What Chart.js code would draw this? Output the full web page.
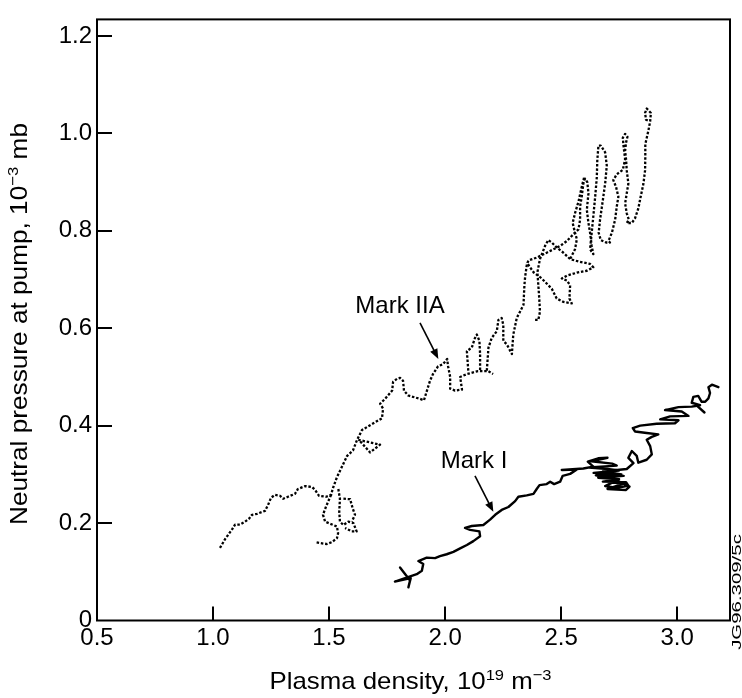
<!DOCTYPE html>
<html>
<head>
<meta charset="utf-8">
<script src="https://cdn.jsdelivr.net/npm/chart.js@4"></script>
<style>
  html, body { margin: 0; padding: 0; background: #fff; }
  canvas { display: block; }
</style>
</head>
<body>
<canvas id="pumpChart" width="742" height="698"></canvas>
<script>
// Neutral pressure at the pump vs plasma density, Mark I and Mark IIA divertors

const xTicks = [0.5, 1.0, 1.5, 2.0, 2.5, 3.0];
const yTicks = [0, 0.2, 0.4, 0.6, 0.8, 1.0, 1.2];
const xRange = [0.5, 3.228];
const yRange = [0, 1.234];

// Mark IIA shots: [density, pressure]
const iiaShot1 = [[1.030,0.149],[1.052,0.167],[1.082,0.187],[1.095,0.197],[1.116,0.197],[1.138,0.203],[1.155,0.209],[1.168,0.217],[1.190,0.219],[1.224,0.225],[1.237,0.237],[1.250,0.252],[1.267,0.258],[1.289,0.256],[1.302,0.250],[1.323,0.254],[1.353,0.260],[1.366,0.270],[1.397,0.276],[1.427,0.274],[1.440,0.268],[1.457,0.256],[1.487,0.254],[1.509,0.258],[1.517,0.272],[1.534,0.294],[1.560,0.320],[1.578,0.338],[1.603,0.349],[1.621,0.371],[1.642,0.391],[1.677,0.401],[1.728,0.415],[1.733,0.435],[1.720,0.445],[1.741,0.455],[1.772,0.472],[1.776,0.490],[1.793,0.496],[1.806,0.498],[1.819,0.492],[1.823,0.472],[1.841,0.462],[1.892,0.455],[1.909,0.452],[1.922,0.472],[1.935,0.492],[1.948,0.506],[1.970,0.522],[1.991,0.526],[2.009,0.537],[2.013,0.522],[2.022,0.500],[2.022,0.476],[2.043,0.472],[2.073,0.474],[2.065,0.500],[2.095,0.506],[2.142,0.512],[2.185,0.512],[2.207,0.506]];
const iiaDip = [[1.509,0.258],[1.496,0.244],[1.483,0.229],[1.474,0.217],[1.483,0.203],[1.513,0.197],[1.534,0.193],[1.539,0.179],[1.534,0.169],[1.513,0.161],[1.491,0.157],[1.461,0.159],[1.440,0.161]];
const iiaLoop1 = [[1.540,0.270],[1.547,0.250],[1.544,0.223],[1.547,0.203],[1.562,0.196],[1.583,0.203],[1.605,0.200],[1.619,0.183],[1.598,0.183],[1.569,0.190]];
const iiaLoop2 = [[1.562,0.250],[1.591,0.249],[1.602,0.230],[1.612,0.217],[1.598,0.203]];
const iiaLoop3 = [[1.626,0.371],[1.720,0.361],[1.677,0.345],[1.634,0.368]];
const iiaSpike = [[2.100,0.513],[2.094,0.553],[2.115,0.560],[2.129,0.580],[2.137,0.587],[2.148,0.574],[2.151,0.547],[2.151,0.513]];
const iiaShot2 = [[2.180,0.513],[2.187,0.560],[2.201,0.580],[2.223,0.594],[2.230,0.617],[2.244,0.621],[2.251,0.607],[2.251,0.574],[2.266,0.567],[2.288,0.547],[2.294,0.587],[2.309,0.621],[2.323,0.634],[2.338,0.648],[2.342,0.688],[2.345,0.705],[2.352,0.729],[2.359,0.739],[2.395,0.745],[2.438,0.755],[2.467,0.762],[2.496,0.769],[2.525,0.779],[2.553,0.793],[2.575,0.803],[2.582,0.823],[2.582,0.850],[2.589,0.870],[2.596,0.897],[2.603,0.907],[2.613,0.900],[2.618,0.877],[2.611,0.843],[2.618,0.816],[2.625,0.796],[2.632,0.769],[2.639,0.752],[2.625,0.762],[2.632,0.796],[2.639,0.830],[2.647,0.870],[2.654,0.910],[2.656,0.944],[2.661,0.975],[2.671,0.975],[2.690,0.961],[2.697,0.934],[2.690,0.897],[2.680,0.863],[2.668,0.823],[2.662,0.796],[2.671,0.781],[2.694,0.776],[2.711,0.776],[2.704,0.779],[2.719,0.796],[2.733,0.823],[2.740,0.850],[2.747,0.870],[2.737,0.890],[2.725,0.904],[2.740,0.916],[2.766,0.925],[2.776,0.947],[2.769,0.975],[2.766,0.991],[2.776,0.999],[2.786,0.993],[2.780,0.981],[2.776,0.964],[2.780,0.947],[2.783,0.924],[2.790,0.897],[2.783,0.877],[2.776,0.856],[2.783,0.836],[2.792,0.823],[2.783,0.816],[2.805,0.816],[2.819,0.826],[2.833,0.846],[2.843,0.870],[2.855,0.897],[2.862,0.924],[2.863,0.951],[2.863,0.978],[2.876,1.005],[2.884,1.025],[2.887,1.042],[2.869,1.051],[2.862,1.042],[2.866,1.028],[2.881,1.025]];
const iiaShot3 = [[2.388,0.617],[2.402,0.617],[2.409,0.634],[2.406,0.661],[2.402,0.688],[2.398,0.715],[2.409,0.742],[2.431,0.769],[2.445,0.781],[2.460,0.776],[2.481,0.766],[2.510,0.755],[2.539,0.742],[2.575,0.737],[2.625,0.732],[2.639,0.725],[2.611,0.718],[2.568,0.714],[2.525,0.708],[2.503,0.702],[2.525,0.698],[2.539,0.688],[2.536,0.661],[2.546,0.651],[2.510,0.654],[2.481,0.661],[2.460,0.681],[2.417,0.702],[2.381,0.715],[2.352,0.735]];
const iiaShot4 = [[2.599,0.909],[2.589,0.890],[2.575,0.860],[2.560,0.836],[2.550,0.816],[2.560,0.796],[2.568,0.783],[2.560,0.762],[2.539,0.742]];

// Mark I shot
const markI = [[1.806,0.109],[1.849,0.082],[1.842,0.068],[1.852,0.087],[1.784,0.080],[1.878,0.095],[1.900,0.102],[1.906,0.116],[1.885,0.122],[1.921,0.129],[1.957,0.128],[1.978,0.132],[2.007,0.136],[2.036,0.141],[2.065,0.148],[2.094,0.155],[2.122,0.163],[2.151,0.173],[2.148,0.183],[2.108,0.186],[2.086,0.190],[2.115,0.194],[2.165,0.196],[2.194,0.207],[2.216,0.217],[2.244,0.227],[2.273,0.233],[2.302,0.245],[2.316,0.254],[2.352,0.257],[2.381,0.260],[2.395,0.270],[2.407,0.278],[2.438,0.280],[2.453,0.285],[2.470,0.280],[2.496,0.285],[2.507,0.297],[2.539,0.301],[2.568,0.310],[2.503,0.309],[2.596,0.312],[2.639,0.316],[2.615,0.326],[2.660,0.333],[2.700,0.334],[2.630,0.327],[2.720,0.322],[2.740,0.318],[2.620,0.314],[2.700,0.311],[2.750,0.308],[2.640,0.303],[2.730,0.300],[2.770,0.297],[2.660,0.293],[2.750,0.290],[2.680,0.285],[2.780,0.284],[2.790,0.277],[2.740,0.272],[2.690,0.276],[2.720,0.283],[2.770,0.281],[2.700,0.270],[2.780,0.268],[2.795,0.275],[2.730,0.290],[2.650,0.298],[2.760,0.300],[2.680,0.306],[2.783,0.311],[2.812,0.323],[2.790,0.334],[2.805,0.348],[2.826,0.338],[2.833,0.324],[2.869,0.330],[2.891,0.341],[2.884,0.358],[2.869,0.371],[2.891,0.377],[2.919,0.382],[2.869,0.385],[2.819,0.388],[2.809,0.395],[2.841,0.400],[2.912,0.404],[2.991,0.405],[3.006,0.411],[2.927,0.413],[2.970,0.419],[3.049,0.420],[3.020,0.429],[2.948,0.432],[3.006,0.438],[3.063,0.439],[3.099,0.442],[3.063,0.447],[3.070,0.459],[3.091,0.461],[3.106,0.449],[3.121,0.449],[3.135,0.456],[3.142,0.467],[3.135,0.479],[3.150,0.484],[3.178,0.479]];
const markICross = [[3.085,0.441],[3.118,0.427]];

const callouts = [
  { text: 'Mark IIA', at: [1.806, 0.644], from: [1.892, 0.611], to: [1.971, 0.537] },
  { text: 'Mark I', at: [2.125, 0.326], from: [2.129, 0.297], to: [2.208, 0.223] }
];

const FONT = '"Liberation Sans", Arial, Helvetica, sans-serif';
Chart.defaults.font.family = FONT;
Chart.defaults.color = '#000';

function trace(points, dotted) {
  return {
    data: points.map(([x, y]) => ({ x, y })),
    showLine: true,
    pointRadius: 0,
    borderColor: '#000',
    borderWidth: dotted ? 2.3 : 2.4,
    borderDash: dotted ? [2.5, 1.8] : [],
    borderJoinStyle: 'round',
    borderCapStyle: dotted ? 'butt' : 'round',
    tension: 0,
    fill: false
  };
}

// text with raised parts, centred on the origin, stretched to a given length
function richText(ctx, parts, size, length) {
  const widths = parts.map(p => {
    ctx.font = (p.sup ? size * 0.64 : size) + 'px ' + FONT;
    return ctx.measureText(p.t).width;
  });
  const total = widths.reduce((s, w) => s + w, 0);
  ctx.scale(length / total, 1);
  let cx = -total / 2;
  parts.forEach((p, i) => {
    ctx.font = (p.sup ? size * 0.64 : size) + 'px ' + FONT;
    ctx.fillText(p.t, cx, p.sup ? -size * 0.36 : 0);
    cx += widths[i];
  });
}

const decorations = {
  id: 'decorations',
  afterDraw(chart) {
    const { ctx, chartArea: a, scales: { x, y } } = chart;
    ctx.save();
    ctx.strokeStyle = '#000';
    ctx.fillStyle = '#000';
    ctx.lineWidth = 2;
    ctx.strokeRect(a.left, a.top, a.right - a.left, a.bottom - a.top);

    // inward tick marks
    ctx.beginPath();
    xTicks.forEach(v => {
      if (v <= x.min) return;
      const px = Math.round(x.getPixelForValue(v));
      ctx.moveTo(px, a.bottom);
      ctx.lineTo(px, a.bottom - 14);
    });
    yTicks.forEach(v => {
      if (v <= y.min) return;
      const py = Math.round(y.getPixelForValue(v));
      ctx.moveTo(a.left, py);
      ctx.lineTo(a.left + 15, py);
    });
    ctx.stroke();

    // callout labels with arrows
    callouts.forEach(c => {
      ctx.font = '24px ' + FONT;
      ctx.textAlign = 'center';
      ctx.textBaseline = 'middle';
      ctx.fillText(c.text, x.getPixelForValue(c.at[0]), y.getPixelForValue(c.at[1]));
      const x0 = x.getPixelForValue(c.from[0]), y0 = y.getPixelForValue(c.from[1]);
      const x1 = x.getPixelForValue(c.to[0]), y1 = y.getPixelForValue(c.to[1]);
      const ang = Math.atan2(y1 - y0, x1 - x0);
      ctx.lineWidth = 1.6;
      ctx.beginPath();
      ctx.moveTo(x0, y0);
      ctx.lineTo(x1 - 7 * Math.cos(ang), y1 - 7 * Math.sin(ang));
      ctx.stroke();
      ctx.beginPath();
      ctx.moveTo(x1, y1);
      ctx.lineTo(x1 - 10 * Math.cos(ang) + 4 * Math.sin(ang), y1 - 10 * Math.sin(ang) - 4 * Math.cos(ang));
      ctx.lineTo(x1 - 10 * Math.cos(ang) - 4 * Math.sin(ang), y1 - 10 * Math.sin(ang) + 4 * Math.cos(ang));
      ctx.closePath();
      ctx.fill();
    });

    // axis titles
    ctx.textAlign = 'left';
    ctx.textBaseline = 'alphabetic';
    ctx.save();
    ctx.translate((a.left + a.right) / 2 - 3, 689);
    richText(ctx, [{ t: 'Plasma density, 10' }, { t: '19', sup: true }, { t: ' m' }, { t: '\u22123', sup: true }], 24, 282);
    ctx.restore();

    ctx.save();
    ctx.translate(27, 324);
    ctx.rotate(-Math.PI / 2);
    richText(ctx, [{ t: 'Neutral pressure at pump, 10' }, { t: '\u22123', sup: true }, { t: ' mb' }], 24, 402);
    ctx.restore();

    // figure reference along the right edge
    ctx.save();
    ctx.translate(738, 592);
    ctx.rotate(-Math.PI / 2);
    ctx.scale(1.7, 1);
    ctx.font = '12px ' + FONT;
    ctx.textAlign = 'center';
    ctx.textBaseline = 'middle';
    ctx.fillText('JG96.309/5c', 0, 0);
    ctx.restore();

    ctx.restore();
  }
};

new Chart(document.getElementById('pumpChart'), {
  type: 'scatter',
  data: {
    datasets: [
      trace(iiaShot1, true),
      trace(iiaDip, true),
      trace(iiaLoop1, true),
      trace(iiaLoop2, true),
      trace(iiaLoop3, true),
      trace(iiaSpike, true),
      trace(iiaShot2, true),
      trace(iiaShot3, true),
      trace(iiaShot4, true),
      trace(markI, false),
      trace(markICross, false)
    ]
  },
  options: {
    responsive: false,
    animation: false,
    devicePixelRatio: 1,
    layout: { padding: { top: 10, right: 12, left: 0, bottom: 0 } },
    plugins: { legend: { display: false }, tooltip: { enabled: false } },
    scales: {
      x: {
        type: 'linear',
        position: 'bottom',
        min: xRange[0],
        max: xRange[1],
        afterBuildTicks: s => { s.ticks = xTicks.map(v => ({ value: v })); },
        afterFit: s => { s.height = 77.5; },
        grid: { display: false, drawTicks: false },
        border: { display: false },
        ticks: {
          autoSkip: false,
          maxRotation: 0,
          padding: 3,
          font: { size: 24 },
          color: '#000',
          callback: v => Number(v).toFixed(1)
        }
      },
      y: {
        type: 'linear',
        min: yRange[0],
        max: yRange[1],
        afterBuildTicks: s => { s.ticks = yTicks.map(v => ({ value: v })); },
        afterFit: s => { s.width = 97; },
        grid: { display: false, drawTicks: false },
        border: { display: false },
        ticks: {
          padding: 5,
          font: { size: 24 },
          color: '#000',
          callback: v => v === 0 ? '0' : Number(v).toFixed(1)
        }
      }
    }
  },
  plugins: [decorations]
});
</script>
</body>
</html>
